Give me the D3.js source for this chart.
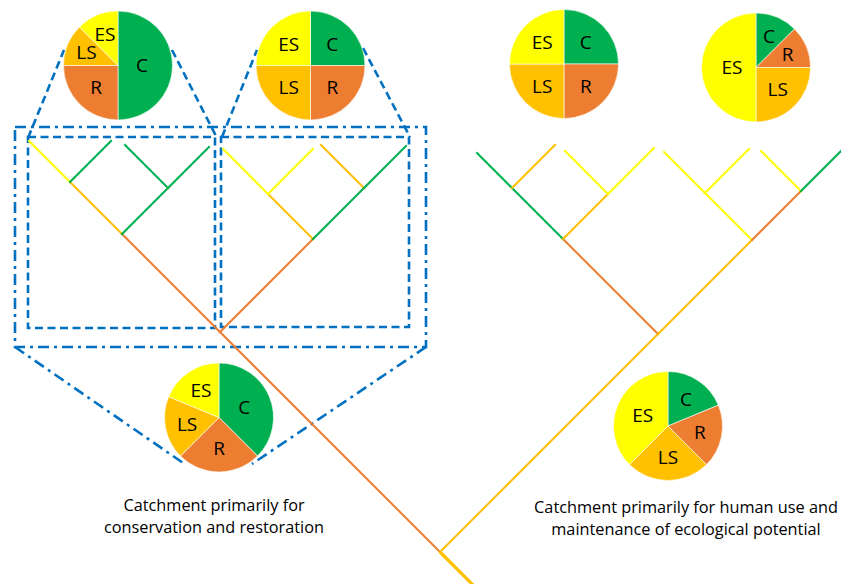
<!DOCTYPE html>
<html>
<head>
<meta charset="utf-8">
<script src="https://cdn.jsdelivr.net/npm/d3@7"></script>
<style>
  body { margin: 0; background: #fff; }
  svg { display: block; }
  text { font-family: "Open Sans", sans-serif; fill: #000; }
</style>
</head>
<body>
<svg width="841" height="584"></svg>
<script>
var width = 841,
  height = 584;

// slice classes, clockwise from 12 o'clock
var categories = ["C", "R", "LS", "ES"];
var catColors = ["#00B050", "#ED7D31", "#FFC000", "#FFFF00"];

// share of each class in every pie (%), same order as categories
var pieSubA = [50, 25, 12.5, 12.5];
var pieSubB = [25, 25, 25, 25];
var pieSubC = [25, 25, 25, 25];
var pieSubD = [12.5, 12.5, 25, 50];
var pieConservation = [37.5, 25, 18.75, 18.75];
var pieHumanUse = [18.75, 18.75, 25, 37.5];

var captionLeft = ["Catchment primarily for", "conservation and restoration"];
var captionRight = ["Catchment primarily for human use and", "maintenance of ecological potential"];

// branches: [id, parent, side (L = up-left, R = up-right), run, class]
var stem = [["root", "", "D", 40, "LS"]];
var leftTree = [
  ["a", "root", "L", 220, "R"],
  ["a1", "a", "L", 98, "R"],
  ["a11", "a1", "L", 52, "LS"],
  ["a111", "a11", "L", 41, "ES"],
  ["a112", "a11", "R", 41, "C"],
  ["a12", "a1", "R", 46, "C"],
  ["a121", "a12", "L", 43, "C"],
  ["a122", "a12", "R", 41, "C"],
  ["a2", "a", "R", 93, "R"],
  ["a21", "a2", "L", 45, "LS"],
  ["a211", "a21", "L", 45, "ES"],
  ["a212", "a21", "R", 45, "ES"],
  ["a22", "a2", "R", 51, "C"],
  ["a221", "a22", "L", 43, "LS"],
  ["a222", "a22", "R", 42, "C"]
];
var rightTree = [
  ["b", "root", "R", 218, "LS"],
  ["b1", "b", "L", 95, "R"],
  ["b11", "b1", "L", 51, "C"],
  ["b111", "b11", "L", 35, "C"],
  ["b112", "b11", "R", 43, "LS"],
  ["b12", "b1", "R", 45, "LS"],
  ["b121", "b12", "L", 43, "ES"],
  ["b122", "b12", "R", 46, "ES"],
  ["b2", "b", "R", 94, "LS"],
  ["b21", "b2", "L", 47, "ES"],
  ["b211", "b21", "L", 41, "ES"],
  ["b212", "b21", "R", 44, "ES"],
  ["b22", "b2", "R", 49, "R"],
  ["b221", "b22", "L", 40, "ES"],
  ["b222", "b22", "R", 44, "C"]
];

var color = d3.scaleOrdinal().domain(categories).range(catColors);
var blue = "#0070C0";

var svg = d3.select("svg");

// tree units: x = horizontal run from root, y = height above root
var x = d3.scaleLinear().domain([-440, 401]).range([0, 841]);
var y = d3.scaleLinear().domain([0, 552]).range([552, 0]);

// ---- blue zoom frames (drawn first, everything else on top)
var deco = svg.append("g").attr("fill", "none").attr("stroke", blue).attr("stroke-width", 2.6);

deco.selectAll("rect.inner")
  .data([[28, 137, 215, 328], [221, 137, 409, 327]])
  .enter()
  .append("rect")
  .attr("x", (d) => d[0])
  .attr("y", (d) => d[1])
  .attr("width", (d) => d[2] - d[0])
  .attr("height", (d) => d[3] - d[1])
  .attr("stroke-dasharray", "8,4.5");

deco.selectAll("line.inner")
  .data([[28, 138, 64, 50], [172, 50, 217, 138], [222, 137, 257, 50], [363, 48, 410, 137]])
  .enter()
  .append("line")
  .attr("x1", (d) => d[0]).attr("y1", (d) => d[1])
  .attr("x2", (d) => d[2]).attr("y2", (d) => d[3])
  .attr("stroke-dasharray", "8,4.5");

deco.append("rect")
  .attr("x", 15).attr("y", 127)
  .attr("width", 411).attr("height", 220)
  .attr("stroke-dasharray", "11,5,3,5");

deco.selectAll("line.outer")
  .data([[15, 347, 186, 465], [426, 347, 252, 464]])
  .enter()
  .append("line")
  .attr("x1", (d) => d[0]).attr("y1", (d) => d[1])
  .attr("x2", (d) => d[2]).attr("y2", (d) => d[3])
  .attr("stroke-dasharray", "11,5,3,5");

// ---- dendrogram
var rows = stem.concat(leftTree, rightTree).map((r) => ({ id: r[0], parent: r[1], side: r[2], len: r[3], cat: r[4] }));
var root = d3.stratify().id((d) => d.id).parentId((d) => d.parent || null)(rows);

root.each(function (n) {
  if (!n.parent) {
    n.px = 0; n.py = 0;
    n.sx = n.data.len; n.sy = -n.data.len;
  } else {
    n.px = n.parent.px + (n.data.side === "L" ? -n.data.len : n.data.len);
    n.py = n.parent.py + n.data.len;
  }
});

svg.append("g")
  .selectAll("line")
  .data(root.descendants().filter((n) => n.parent))
  .enter()
  .append("line")
  .attr("x1", (d) => x(d.parent.px))
  .attr("y1", (d) => y(d.parent.py))
  .attr("x2", (d) => x(d.px))
  .attr("y2", (d) => y(d.py))
  .attr("stroke", (d) => color(d.data.cat))
  .attr("stroke-width", 2)
  .attr("stroke-linecap", "square");

svg.append("line")
  .attr("x1", x(root.px)).attr("y1", y(root.py))
  .attr("x2", x(root.sx)).attr("y2", y(root.sy))
  .attr("stroke", color(root.data.cat))
  .attr("stroke-width", 3.2);

// ---- pies
var pies = [
  { values: pieSubA, cx: 118, cy: 65.5, r: 54.5 },
  { values: pieSubB, cx: 310.5, cy: 65.5, r: 54.5 },
  { values: pieSubC, cx: 564, cy: 64, r: 54.5 },
  { values: pieSubD, cx: 756, cy: 67.5, r: 54.5 },
  { values: pieConservation, cx: 219, cy: 417.5, r: 54.5 },
  { values: pieHumanUse, cx: 668, cy: 426, r: 54.5 }
];

var pie = d3.pie().sort(null).value((d) => d.v);

pies.forEach(function (p) {
  var g = svg.append("g").attr("transform", "translate(" + p.cx + "," + p.cy + ")");
  var slices = pie(p.values.map((v, i) => ({ v: v, cat: categories[i] })));
  var arc = d3.arc().innerRadius(0).outerRadius(p.r);

  g.selectAll("path")
    .data(slices)
    .enter()
    .append("path")
    .attr("d", arc)
    .attr("fill", (d) => color(d.data.cat))
    .attr("stroke", "#fff")
    .attr("stroke-width", 0.6);

  g.selectAll("text")
    .data(slices)
    .enter()
    .append("text")
    .attr("transform", function (d) {
      var lr = p.r * (0.69 - 0.005 * d.data.v);
      var c = d3.arc().innerRadius(lr).outerRadius(lr).centroid(d);
      return "translate(" + c[0] + "," + c[1] + ")";
    })
    .attr("text-anchor", "middle")
    .attr("dy", "0.36em")
    .attr("font-size", 19)
    .text((d) => d.data.cat);
});

// ---- captions
function caption(lines, cx, top) {
  svg.append("g")
    .selectAll("text")
    .data(lines)
    .enter()
    .append("text")
    .attr("x", cx)
    .attr("y", (d, i) => top + i * 21.5)
    .attr("text-anchor", "middle")
    .attr("font-size", 16.3)
    .text((d) => d);
}
caption(captionLeft, 214, 511);
caption(captionRight, 686, 513);
</script>
</body>
</html>
